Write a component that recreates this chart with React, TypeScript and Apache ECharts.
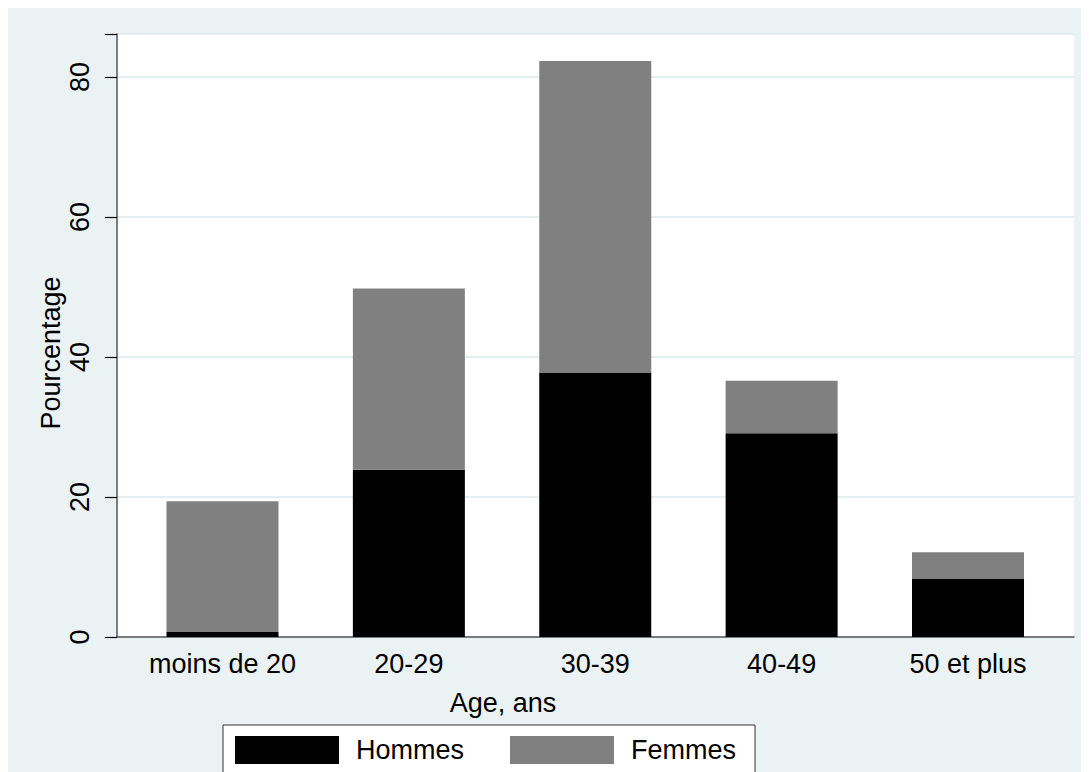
import React, { useEffect, useRef } from "react";
import * as echarts from "echarts";

const categories = ["moins de 20", "20-29", "30-39", "40-49", "50 et plus"];
const hommes = [0.7, 23.9, 37.8, 29.1, 8.3];
const femmes = [18.7, 25.9, 44.5, 7.5, 3.8];
const yTicks = [0, 20, 40, 60, 80];
const seriesNames = ["Hommes", "Femmes"];
const xTitle = "Age, ans";
const yTitle = "Pourcentage";

const FONT = "'Liberation Sans', Arial, Helvetica, sans-serif";
const FS = 27;

export default function App() {
  const ref = useRef<HTMLDivElement>(null);
  useEffect(() => {
    if (!ref.current) return;
    const chart = echarts.init(ref.current, undefined, { renderer: "svg" });
    const yMax = 86.14;
    chart.setOption({
      animation: false,
      backgroundColor: "#EAF2F3",
      textStyle: { fontFamily: FONT },
      grid: [
        { left: 109, right: 15, top: 28, bottom: 135, show: true, backgroundColor: "#ffffff", borderWidth: 0 },
        { left: 121.3, right: 27.8, top: 28, bottom: 135 },
      ],
      xAxis: [
        {
          type: "value", gridIndex: 0, min: 0, max: 1,
          axisLine: { show: true, onZero: false, lineStyle: { color: "#555555", width: 1.5 } },
          axisTick: { show: false }, axisLabel: { show: false }, splitLine: { show: false },
        },
        {
          type: "category", gridIndex: 1, data: categories,
          axisLine: { show: false }, axisTick: { show: false },
          axisLabel: { color: "#000", fontSize: FS, fontFamily: FONT, margin: 13, interval: 0 },
        },
      ],
      yAxis: [
        {
          type: "value", gridIndex: 0, min: 0, max: yMax, interval: 20,
          axisLine: { show: true, lineStyle: { color: "#555555", width: 1.5 } },
          axisTick: { show: true, length: 12, lineStyle: { color: "#000", width: 1.2 } },
          axisLabel: {
            color: "#000", fontSize: FS, fontFamily: FONT, rotate: 90, margin: 24,
            formatter: (v: number) => (yTicks.includes(v) ? String(v) : ""),
          },
          splitLine: { show: true, lineStyle: { color: "#E4EDEF", width: 2 } },
        },
        { type: "value", gridIndex: 1, min: 0, max: yMax, show: false },
      ],
      legend: {
        data: seriesNames,
        left: 215, top: 719,
        orient: "horizontal",
        icon: "rect",
        itemWidth: 104, itemHeight: 28, itemGap: 46,
        padding: [11, 19, 22, 12],
        backgroundColor: "#ffffff",
        borderColor: "#333333", borderWidth: 1,
        borderRadius: 0,
        textStyle: { color: "#000", fontSize: FS, fontFamily: FONT, padding: [0, 0, 0, 12] },
      },
      graphic: [
        {
          type: "text", x: 495, y: 697,
          style: { text: xTitle, fill: "#000", font: `${FS}px ${FONT}`, textAlign: "center", textVerticalAlign: "middle" },
        },
        {
          type: "text", x: 43, y: 347, rotation: Math.PI / 2,
          style: { text: yTitle, fill: "#000", font: `${FS}px ${FONT}`, textAlign: "center", textVerticalAlign: "middle" },
        },
      ],
      series: [
        {
          name: seriesNames[0], type: "bar", stack: "total", xAxisIndex: 1, yAxisIndex: 1,
          barWidth: 112, data: hommes, itemStyle: { color: "#000000" },
        },
        {
          name: seriesNames[1], type: "bar", stack: "total", xAxisIndex: 1, yAxisIndex: 1,
          barWidth: 112, data: femmes, itemStyle: { color: "#808080" },
        },
      ],
    });
    return () => chart.dispose();
  }, []);
  return <div ref={ref} style={{ width: 1081, height: 766, marginTop: -2 }} />;
}
